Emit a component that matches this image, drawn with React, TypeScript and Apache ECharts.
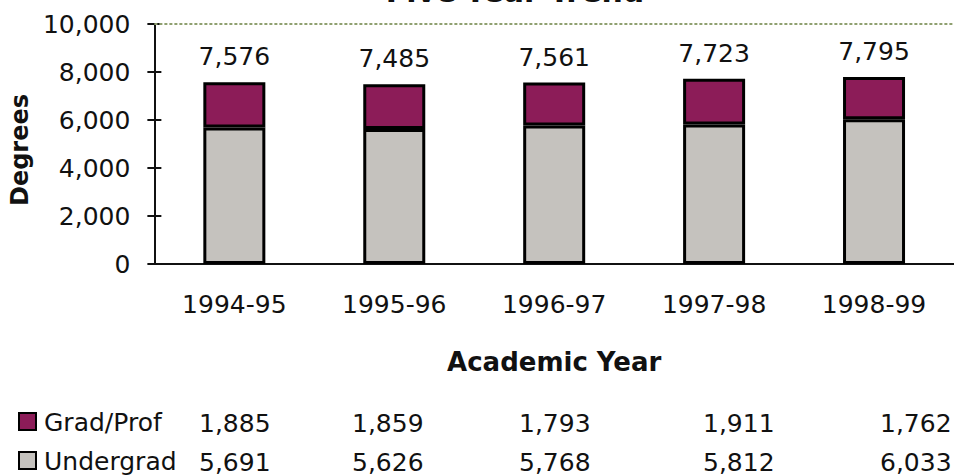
import React, { useEffect, useRef } from "react";
import * as echarts from "echarts";

const categories = ["1994-95", "1995-96", "1996-97", "1997-98", "1998-99"];
const gradProf = [1885, 1859, 1793, 1911, 1762];
const undergrad = [5691, 5626, 5768, 5812, 6033];
const yTicks = { min: 0, max: 10000, interval: 2000 };

// layout of the data-table columns (pixel positions, not data)
const tableColumnX = [199, 352, 519, 703, 880];

const FONT = "'DejaVu Sans', sans-serif";
const GRAD_COLOR = "#8c1c58";
const UNDER_COLOR = "#c5c2be";

const fmt = (v: number) => v.toLocaleString("en-US");

export default function App() {
  const ref = useRef<HTMLDivElement>(null);
  useEffect(() => {
    if (!ref.current) return;
    const chart = echarts.init(ref.current, null, { renderer: "svg" });
    const totals = categories.map((_, i) => gradProf[i] + undergrad[i]);

    const rows = [
      { name: "Grad/Prof", values: gradProf, color: GRAD_COLOR, y: 422 },
      { name: "Undergrad", values: undergrad, color: UNDER_COLOR, y: 461 },
    ];
    const tableGraphics: any[] = [];
    rows.forEach((r) => {
      tableGraphics.push({
        type: "rect",
        shape: { x: 19, y: r.y - 9, width: 17, height: 17 },
        style: { fill: r.color, stroke: "#000", lineWidth: 2 },
      });
      tableGraphics.push({
        type: "text",
        x: 44,
        y: r.y,
        style: {
          text: r.name,
          font: `25px ${FONT}`,
          fill: "#111",
          textVerticalAlign: "middle",
          verticalAlign: "middle",
        },
      });
      r.values.forEach((v, i) => {
        tableGraphics.push({
          type: "text",
          x: tableColumnX[i],
          y: r.y + 1,
          style: {
            text: fmt(v),
            font: `25px ${FONT}`,
            fill: "#111",
            verticalAlign: "middle",
            textVerticalAlign: "middle",
          },
        });
      });
    });

    const baseY = {
      type: "value",
      min: yTicks.min,
      max: yTicks.max,
      interval: yTicks.interval,
      position: "left",
      splitLine: { show: false },
      axisLine: { show: true, lineStyle: { color: "#111", width: 2 } },
    };

    chart.setOption({
      animation: false,
      backgroundColor: "#fff",
      grid: { left: 151, right: 0, top: 24, bottom: 211, containLabel: false },
      graphic: [
        {
          type: "text",
          x: 515,
          y: -9,
          style: {
            text: "Five-Year Trend",
            font: `bold 30px ${FONT}`,
            fill: "#111",
            textAlign: "center",
            align: "center",
            verticalAlign: "middle",
            textVerticalAlign: "middle",
          },
        },
        ...tableGraphics,
      ],
      xAxis: {
        type: "category",
        data: categories,
        axisTick: { show: false },
        axisLine: { lineStyle: { color: "#111", width: 2 } },
        axisLabel: { margin: 28, fontFamily: FONT, fontSize: 25, color: "#111" },
        name: "Academic Year",
        nameLocation: "middle",
        nameGap: 85,
        nameTextStyle: { fontFamily: FONT, fontSize: 26, fontWeight: "bold", color: "#111" },
      },
      yAxis: [
        {
          ...baseY,
          axisTick: { show: true, length: 7, lineStyle: { color: "#111", width: 2 } },
          axisLabel: { margin: 24, fontFamily: FONT, fontSize: 25, color: "#111", formatter: (v: number) => fmt(v) },
          name: "Degrees",
          nameLocation: "middle",
          nameGap: 118,
          nameRotate: 90,
          nameTextStyle: { fontFamily: FONT, fontSize: 24, fontWeight: "bold", color: "#111", padding: [0, 12, 0, 0] },
        },
        {
          ...baseY,
          axisTick: { show: true, inside: true, length: 7, lineStyle: { color: "#111", width: 2 } },
          axisLabel: { show: false },
        },
      ],
      series: [
        {
          name: "Undergrad",
          type: "bar",
          stack: "total",
          data: undergrad,
          barWidth: 62,
          itemStyle: { color: UNDER_COLOR, borderColor: "#000", borderWidth: 3 },
          markLine: {
            silent: true,
            symbol: "none",
            label: { show: false },
            lineStyle: { color: "#8fa070", type: [3, 2], width: 2 },
            data: [{ yAxis: yTicks.max }],
          },
        },
        {
          name: "Grad/Prof",
          type: "bar",
          stack: "total",
          data: gradProf,
          barWidth: 62,
          itemStyle: { color: GRAD_COLOR, borderColor: "#000", borderWidth: 3 },
          label: {
            show: true,
            position: "top",
            distance: 13,
            fontFamily: FONT,
            fontSize: 25,
            color: "#111",
            formatter: (p: any) => fmt(totals[p.dataIndex]),
          },
        },
      ],
    });
    return () => chart.dispose();
  }, []);
  return (
    <div
      ref={ref}
      style={{ position: "fixed", left: 0, top: 0, width: 954, height: 475, background: "#fff" }}
    />
  );
}
